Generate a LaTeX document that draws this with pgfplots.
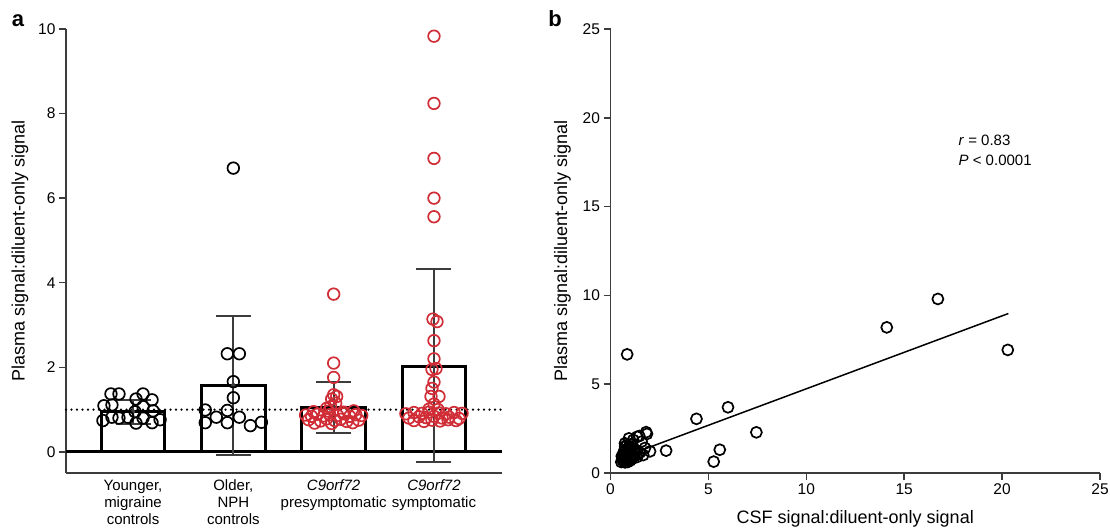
\documentclass[border=0pt]{standalone}
\usepackage{pgfplots}
\pgfplotsset{compat=1.18}
\usepackage{fontspec}
\setmainfont{Liberation Sans}
\definecolor{redc}{RGB}{208,45,55}
\definecolor{spine}{RGB}{60,60,60}
\begin{document}
\begin{tikzpicture}
\useasboundingbox (0,0) rectangle (1110pt,530pt);
\pgfplotsset{
  myax/.style={
    scale only axis, anchor=south west,
    axis x line*=bottom, axis y line*=left,
    axis line style={-, draw=spine, line width=1.5pt},
    tick align=outside, major tick length=7pt,
    tick style={draw=spine, line width=1.5pt},
    /pgf/number format/assume math mode=true,
    tick label style={font=\fontsize{15.5}{17.5}\selectfont, text=black},
    label style={font=\fontsize{18}{20}\selectfont},
    clip=false,
  }
}
\begin{axis}[myax,
  at={(66pt,57pt)}, width=436pt, height=444pt,
  xmin=-0.668, xmax=3.678, ymin=-0.5, ymax=10,
  ytick={0,2,4,6,8,10},
  xtick={0,1,2,3},
  xticklabels={{Younger,\\migraine\\controls},{Older,\\NPH\\controls},{{\itshape C9orf72}\\presymptomatic},{{\itshape C9orf72}\\symptomatic}},
  xticklabel style={align=center, yshift=1.5pt, inner sep=1pt, font=\fontsize{15}{17}\selectfont},
  major x tick style={draw=none},
  ylabel={Plasma signal:diluent-only signal},
  ylabel style={at={(axis description cs:-0.1055,0.5)}, anchor=center},
]
\addplot[ybar, bar width=0.635, fill=white, draw=black, line width=3pt] coordinates {(0,0.95) (1,1.57) (2,1.04) (3,2.03)};
\addplot[black, line width=3pt] coordinates {(-0.668,0) (3.678,0)};
\addplot[black, line width=2.5pt, dash pattern=on 0pt off 5.5pt, line cap=round] coordinates {(-0.668,1) (3.678,1)};
\addplot[spine, only marks, mark=none, error bars/.cd, y dir=both, y explicit,
  error bar style={line width=2pt, spine},
  error mark options={rotate=90, mark size=17.5pt, line width=2pt, spine}]
  coordinates {(0,0.95) +- (0,0.28) (1,1.575) +- (0,1.645) (2,1.05) +- (0,0.60) (3,2.045) +- (0,2.285)};
\addplot[only marks, mark=o, mark size=5.8pt, mark options={line width=1.7pt, draw=black}] table {
-0.22 1.37
-0.14 1.37
0.10 1.37
-0.29 1.09
-0.21 1.11
0.03 1.25
0.19 1.23
0.02 0.95
0.20 0.97
-0.30 0.74
-0.21 0.82
-0.14 0.80
-0.05 0.82
0.03 0.68
0.10 0.80
0.19 0.69
0.27 0.76
0.10 1.07
};
\addplot[only marks, mark=o, mark size=5.8pt, mark options={line width=1.7pt, draw=black}] table {
1.00 6.71
0.94 2.32
1.06 2.32
1.00 1.66
1.00 1.28
0.72 0.99
0.94 0.98
0.83 0.82
1.06 0.82
0.72 0.69
0.94 0.69
1.17 0.62
1.28 0.70
};
\addplot[only marks, mark=o, mark size=5.8pt, mark options={line width=1.7pt, draw=redc}] table {
2.00 3.73
2.00 2.10
2.00 1.76
2.00 1.35
2.03 1.31
1.98 1.25
2.02 1.15
1.97 1.07
1.93 1.03
1.72 0.87
1.78 0.84
1.84 0.89
1.90 0.85
1.96 0.88
2.04 0.86
2.10 0.90
2.16 0.84
2.22 0.88
2.28 0.86
1.75 0.76
1.87 0.73
1.93 0.78
2.01 0.74
2.07 0.77
2.13 0.72
2.25 0.75
1.80 0.95
1.95 0.96
2.10 0.94
2.20 0.97
1.81 0.68
1.98 0.67
2.19 0.69
};
\addplot[only marks, mark=o, mark size=5.8pt, mark options={line width=1.7pt, draw=redc}] table {
3.00 9.83
3.00 8.24
3.00 6.94
3.00 6.00
3.00 5.56
2.99 3.14
3.03 3.08
3.00 2.63
3.00 2.20
2.98 1.95
3.02 1.97
3.00 1.65
2.98 1.50
2.97 1.31
3.05 1.31
3.00 1.13
2.72 0.90
2.80 0.93
2.88 0.91
2.95 0.94
3.05 0.92
3.12 0.90
3.20 0.93
3.28 0.91
2.75 0.80
2.85 0.83
2.92 0.81
3.00 0.84
3.08 0.80
3.15 0.82
3.25 0.79
2.80 0.74
2.90 0.72
2.98 0.75
3.06 0.73
3.14 0.76
3.22 0.74
2.95 1.01
3.04 1.00
};
\end{axis}
\node[font=\fontsize{22}{24}\selectfont\bfseries, anchor=base] at (18pt,503pt) {a};
\node[font=\fontsize{22}{24}\selectfont\bfseries, anchor=base] at (555pt,503pt) {b};
\begin{axis}[myax,
  at={(610.5pt,57pt)}, width=489.5pt, height=444pt,
  xmin=0, xmax=25, ymin=0, ymax=25,
  xtick={0,5,...,25}, ytick={0,5,...,25},
  xlabel={CSF signal:diluent-only signal},
  xlabel style={at={(axis description cs:0.5,-0.1036)}, anchor=center},
  ylabel={Plasma signal:diluent-only signal},
  ylabel style={at={(axis description cs:-0.098,0.5)}, anchor=center},
]
\addplot[black, line width=1.5pt] coordinates {(0.6,0.88) (20.32,8.98)};
\addplot[only marks, mark=o, mark size=5.5pt, mark options={line width=1.7pt, draw=black}] table {
16.72 9.80
14.11 8.20
20.29 6.93
6.00 3.70
4.39 3.05
7.45 2.29
5.58 1.31
5.27 0.64
0.85 6.68
2.84 1.26
2.02 1.22
1.82 2.30
1.86 2.20
1.36 2.04
0.94 1.95
0.74 1.67
1.16 1.86
1.47 2.08
1.59 1.77
1.76 1.41
1.67 1.01
0.55 0.62
0.62 0.70
0.70 0.65
0.78 0.72
0.85 0.68
0.92 0.75
1.00 0.70
0.60 0.80
0.68 0.88
0.75 0.82
0.82 0.92
0.90 0.85
0.98 0.95
1.05 0.88
1.12 0.98
0.65 1.00
0.72 1.08
0.80 1.02
0.88 1.12
0.95 1.05
1.02 1.15
1.10 1.08
1.18 1.20
1.25 1.12
0.70 1.25
0.78 1.32
0.86 1.22
0.94 1.38
1.02 1.30
1.10 1.42
1.20 1.35
1.30 1.28
0.75 1.50
0.85 1.58
0.95 1.48
1.05 1.62
1.40 1.05
1.35 0.90
1.50 1.15
0.58 0.95
0.66 0.75
0.74 0.60
0.88 0.62
1.08 0.78
1.22 0.95
};
\node[anchor=west, font=\fontsize{15}{18}\selectfont] at (axis cs:17.6,18.75) {\textit{r} = 0.83};
\node[anchor=west, font=\fontsize{15}{18}\selectfont] at (axis cs:17.6,17.62) {\textit{P} < 0.0001};
\end{axis}
\end{tikzpicture}
\end{document}
